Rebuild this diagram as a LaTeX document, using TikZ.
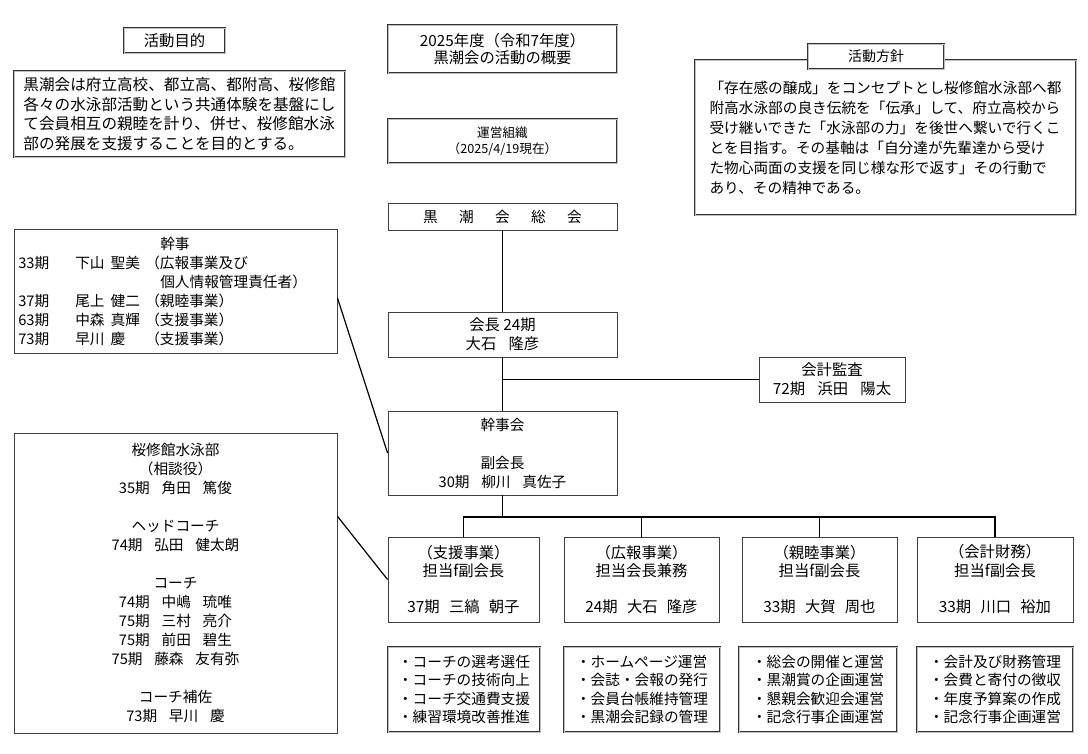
\documentclass[tikz,border=0pt]{standalone}
\usepackage{fontspec}
\setmainfont{Noto Sans CJK JP}
\newcommand\fs[2]{\fontsize{#1}{#2}\selectfont}
\newcommand\bx[7]{%
  \pgfmathsetmacro\bw{(#5-#3)*0.75}\pgfmathsetmacro\bh{(#6-#4)*0.75}%
  \node[#1, minimum width=\bw pt, minimum height=\bh pt] (#2) at ({(#3+#5)/2},{(#4+#6)/2}) {#7};}
\begin{document}
\begin{tikzpicture}[x=0.75pt,y=-0.75pt,
  pl/.style={draw=black!75, line width=0.7pt, inner sep=0pt, fill=white},
  fr/.style={draw=black!80, double=black!25, line width=0.5pt, double distance=0.7pt, inner sep=0pt, fill=white},
  conn/.style={line width=1.4pt, black},
  diag/.style={line width=0.9pt, black},
  txt/.style={inner sep=0pt, font=\fs{11}{14}, anchor=west}]
\useasboundingbox (0,0) rectangle (1088,753);

% top left
\bx{fr,font=\fs{11.5}{14}}{mokuteki}{124}{28}{225}{53}{活動目的}
\bx{fr,align=left,font=\fs{11.7}{14.8}}{purpose}{14}{71}{345}{157}{黒潮会は府立高校、都立高、都附高、桜修館\\各々の水泳部活動という共通体験を基盤にし\\て会員相互の親睦を計り、併せ、桜修館水泳\\部の発展を支援することを目的とする。}

% top centre
\bx{fr,align=center,font=\fs{11.5}{12.5}}{title}{388}{25}{617}{73}{2025年度（令和7年度）\\黒潮会の活動の概要}
\bx{fr,align=center,font=\fs{9.5}{12}}{unei}{388}{119}{617}{163}{運営組織\\（2025/4/19現在）}

% top right
\bx{fr,align=left,font=\fs{11}{15}}{policy}{695}{60}{1076}{215}{「存在感の醸成」をコンセプトとし桜修館水泳部へ都\\附高水泳部の良き伝統を「伝承」して、府立高校から\\受け継いできた「水泳部の力」を後世へ繋いで行くこ\\とを目指す。その基軸は「自分達が先輩達から受け\\た物心両面の支援を同じ様な形で返す」その行動で\\あり、その精神である。}
\bx{fr,font=\fs{10.5}{12}}{housin}{808}{44}{944}{69}{活動方針}

% centre column
\bx{pl,font=\fs{11}{14}}{sokai}{388}{203}{617}{230}{黒\hspace{16pt}潮\hspace{16pt}会\hspace{16pt}総\hspace{16pt}会}
\bx{pl,align=center,font=\fs{11.5}{14.25}}{kaicho}{388}{312}{617}{357}{会長 24期\\大石\hspace{0.8em}隆彦}
\bx{pl,align=center,font=\fs{11.5}{14.25}}{kansa}{759}{357}{905}{402}{会計監査\\72期\hspace{0.8em}浜田\hspace{0.8em}陽太}
\bx{pl,align=center,font=\fs{11}{14.25}}{kanjikai}{388}{411}{617}{495}{幹事会\\[14.25pt]副会長\\30期\hspace{0.8em}柳川\hspace{0.8em}真佐子}

% departments
\bx{pl,align=center,font=\fs{11.5}{13.7}}{d1}{388}{537}{539}{622}{（支援事業）\\担当f副会長\\[13.7pt]37期\hspace{0.6em}三縞\hspace{0.6em}朝子}
\bx{pl,align=center,font=\fs{11.5}{13.7}}{d2}{564}{537}{719}{622}{（広報事業）\\担当会長兼務\\[13.7pt]24期\hspace{0.6em}大石\hspace{0.6em}隆彦}
\bx{pl,align=center,font=\fs{11.5}{13.7}}{d3}{742}{537}{897}{622}{（親睦事業）\\担当f副会長\\[13.7pt]33期\hspace{0.6em}大賀\hspace{0.6em}周也}
\bx{pl,align=center,font=\fs{11.5}{13.7}}{d4}{917}{537}{1073}{622}{（会計財務）\\担当f副会長\\[13.7pt]33期\hspace{0.6em}川口\hspace{0.6em}裕加}

% task lists
\bx{fr,align=left,font=\fs{11}{13.7}}{l1}{388}{647}{540}{732}{・コーチの選考選任\\・コーチの技術向上\\・コーチ交通費支援\\・練習環境改善推進}
\bx{fr,align=left,font=\fs{11}{13.7}}{l2}{564}{647}{720}{732}{・ホームページ運営\\・会誌・会報の発行\\・会員台帳維持管理\\・黒潮会記録の管理}
\bx{fr,align=left,font=\fs{11}{13.7}}{l3}{739}{647}{897}{732}{・総会の開催と運営\\・黒潮賞の企画運営\\・懇親会歓迎会運営\\・記念行事企画運営}
\bx{fr,align=left,font=\fs{11}{13.7}}{l4}{917}{647}{1073}{732}{・会計及び財務管理\\・会費と寄付の徴収\\・年度予算案の作成\\・記念行事企画運営}

% left: kanji
\bx{pl}{kanji}{14}{229}{337}{353}{}
\node[txt] (k0) at (160,244) {幹事};
\node[txt] (k1a) at (18,263) {33期};
\node[txt] (k1b) at (75,263) {下山\hspace{4.5pt}聖美};
\node[txt] (k1c) at (145,263) {（広報事業及び};
\node[txt] (k2c) at (160,282) {個人情報管理責任者）};
\node[txt] (k3a) at (18,301) {37期};
\node[txt] (k3b) at (75,301) {尾上\hspace{4.5pt}健二};
\node[txt] (k3c) at (145,301) {（親睦事業）};
\node[txt] (k4a) at (18,320) {63期};
\node[txt] (k4b) at (75,320) {中森\hspace{4.5pt}真輝};
\node[txt] (k4c) at (145,320) {（支援事業）};
\node[txt] (k5a) at (18,339) {73期};
\node[txt] (k5b) at (75,339) {早川\hspace{4.5pt}慶};
\node[txt] (k5c) at (145,339) {（支援事業）};

% left: oushukan
\bx{pl,align=center,font=\fs{11}{14.2}}{oushu}{14}{433}{337}{733}{桜修館水泳部\\（相談役）\\35期\hspace{0.8em}角田\hspace{0.8em}篤俊\\[14.2pt]ヘッドコーチ\\74期\hspace{0.8em}弘田\hspace{0.8em}健太朗\\[14.2pt]コーチ\\74期\hspace{0.8em}中嶋\hspace{0.8em}琉唯\\75期\hspace{0.8em}三村\hspace{0.8em}亮介\\75期\hspace{0.8em}前田\hspace{0.8em}碧生\\75期\hspace{0.8em}藤森\hspace{0.8em}友有弥\\[14.2pt]コーチ補佐\\73期\hspace{0.8em}早川\hspace{0.8em}慶}

% connectors
\draw[conn] (sokai.south) -- (kaicho.north);
\draw[conn] (kaicho.south) -- (kanjikai.north);
\coordinate (j) at (kaicho.south |- kansa.west);
\draw[conn] (j) -- (kansa.west);
\coordinate (bus) at (502.5,517);
\draw[conn] (kanjikai.south) -- (bus);
\draw[conn] (d1.north) |- (bus) -| (d4.north);
\draw[conn] (d2.north) -- (d2.north |- bus);
\draw[conn] (d3.north) -- (d3.north |- bus);
\draw[diag] ([yshift=-5.25pt]kanji.east) -- (kanjikai.west);
\draw[diag] ([yshift=50pt]oushu.east) -- (d1.west);
\end{tikzpicture}
\end{document}
